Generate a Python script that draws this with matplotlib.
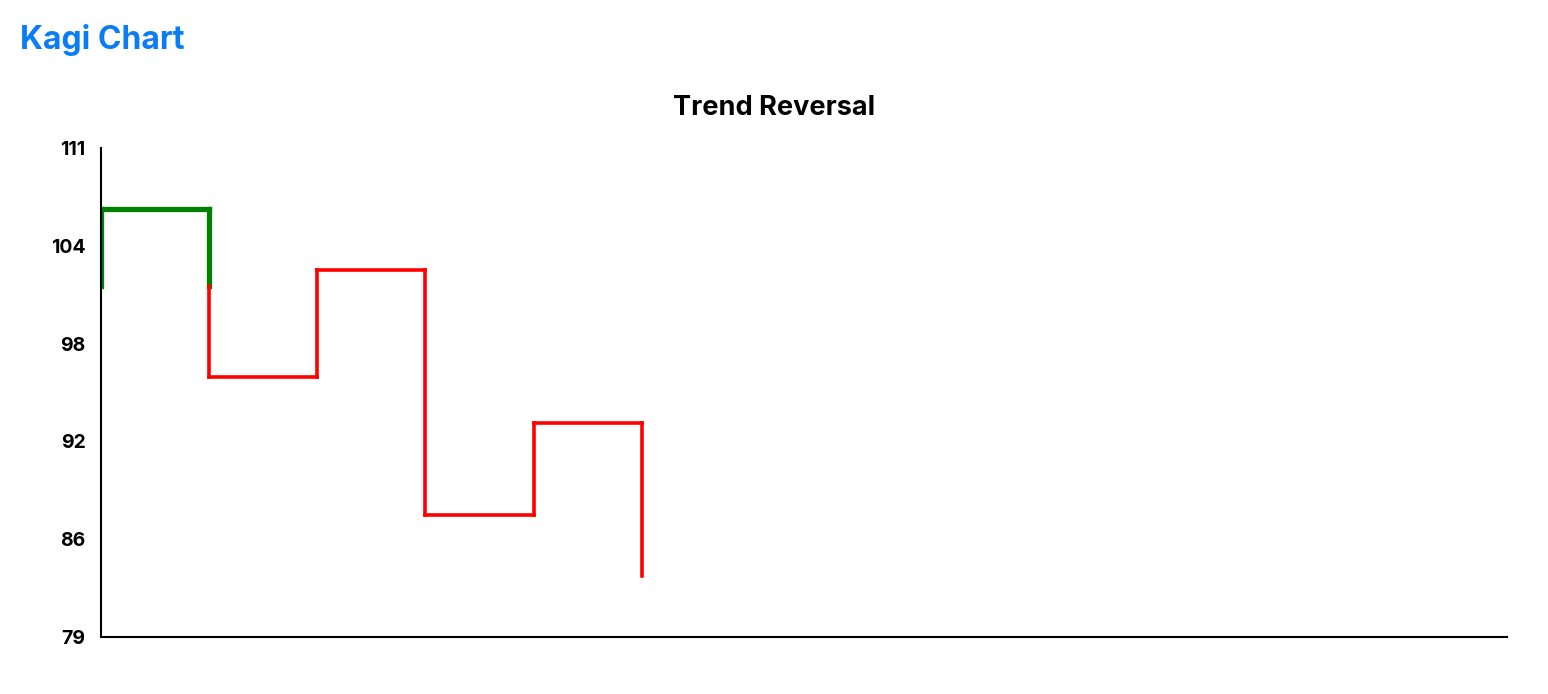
import matplotlib
matplotlib.use("Agg")
from matplotlib import pyplot as plt
import numpy as np

plt.rcParams['font.family'] = ['Inter', 'DejaVu Sans']

# kagi turning points (price reversals)
prices = [102, 107, 96, 103, 87, 93, 83]
y_ticks = [79, 86, 92, 98, 104, 111]
title = "Trend Reversal"
header = "Kagi Chart"

yang_color = "#008000"
yin_color = "#ff0000"


def kagi_segments(p):  # split the kagi path into (xs, ys, yang) pieces
    segs = []
    yang = p[1] > p[0]
    shoulder = max(p[0], p[1])
    waist = min(p[0], p[1])
    segs.append(([0, 0], [p[0], p[1]], yang))
    for k in range(1, len(p) - 1):
        segs.append(([k - 1, k], [p[k], p[k]], yang))
        a, b = p[k], p[k + 1]
        if b < a:
            if yang and b < waist:
                segs.append(([k, k], [a, waist], True))
                segs.append(([k, k], [waist, b], False))
                yang = False
            else:
                segs.append(([k, k], [a, b], yang))
            shoulder = a
        else:
            if not yang and b > shoulder:
                segs.append(([k, k], [a, shoulder], False))
                segs.append(([k, k], [shoulder, b], True))
                yang = True
            else:
                segs.append(([k, k], [a, b], yang))
            waist = a
    return segs


fig = plt.figure(figsize=(15.48, 6.94), dpi=100)
ax = fig.add_axes([0.0652, 0.0821, 0.9083, 0.7046])

for xs, ys, yang in kagi_segments(prices):
    if yang:
        ax.plot(xs, ys, color=yang_color, lw=3.8, solid_capstyle="projecting")
    else:
        ax.plot(xs, ys, color=yin_color, lw=2.6, solid_capstyle="projecting")

ax.set_xlim(0, 13)
ax.set_ylim(79, 111)
ax.set_yticks(np.linspace(79, 111, 6))
ax.set_yticklabels([str(t) for t in y_ticks], fontsize=14, fontweight="bold")
ax.set_xticks([])
ax.tick_params(axis="y", length=0, pad=11)
for s in ["top", "right"]:
    ax.spines[s].set_visible(False)
for s in ["left", "bottom"]:
    ax.spines[s].set_linewidth(1.5)

fig.text(0.5, 0.845, title, fontsize=19.5, fontweight="bold", ha="center", va="center")
fig.text(0.013, 0.943, header, fontsize=23, fontweight="bold", color="#0a7cf5", va="center")

fig.savefig("out.png", dpi=100)
